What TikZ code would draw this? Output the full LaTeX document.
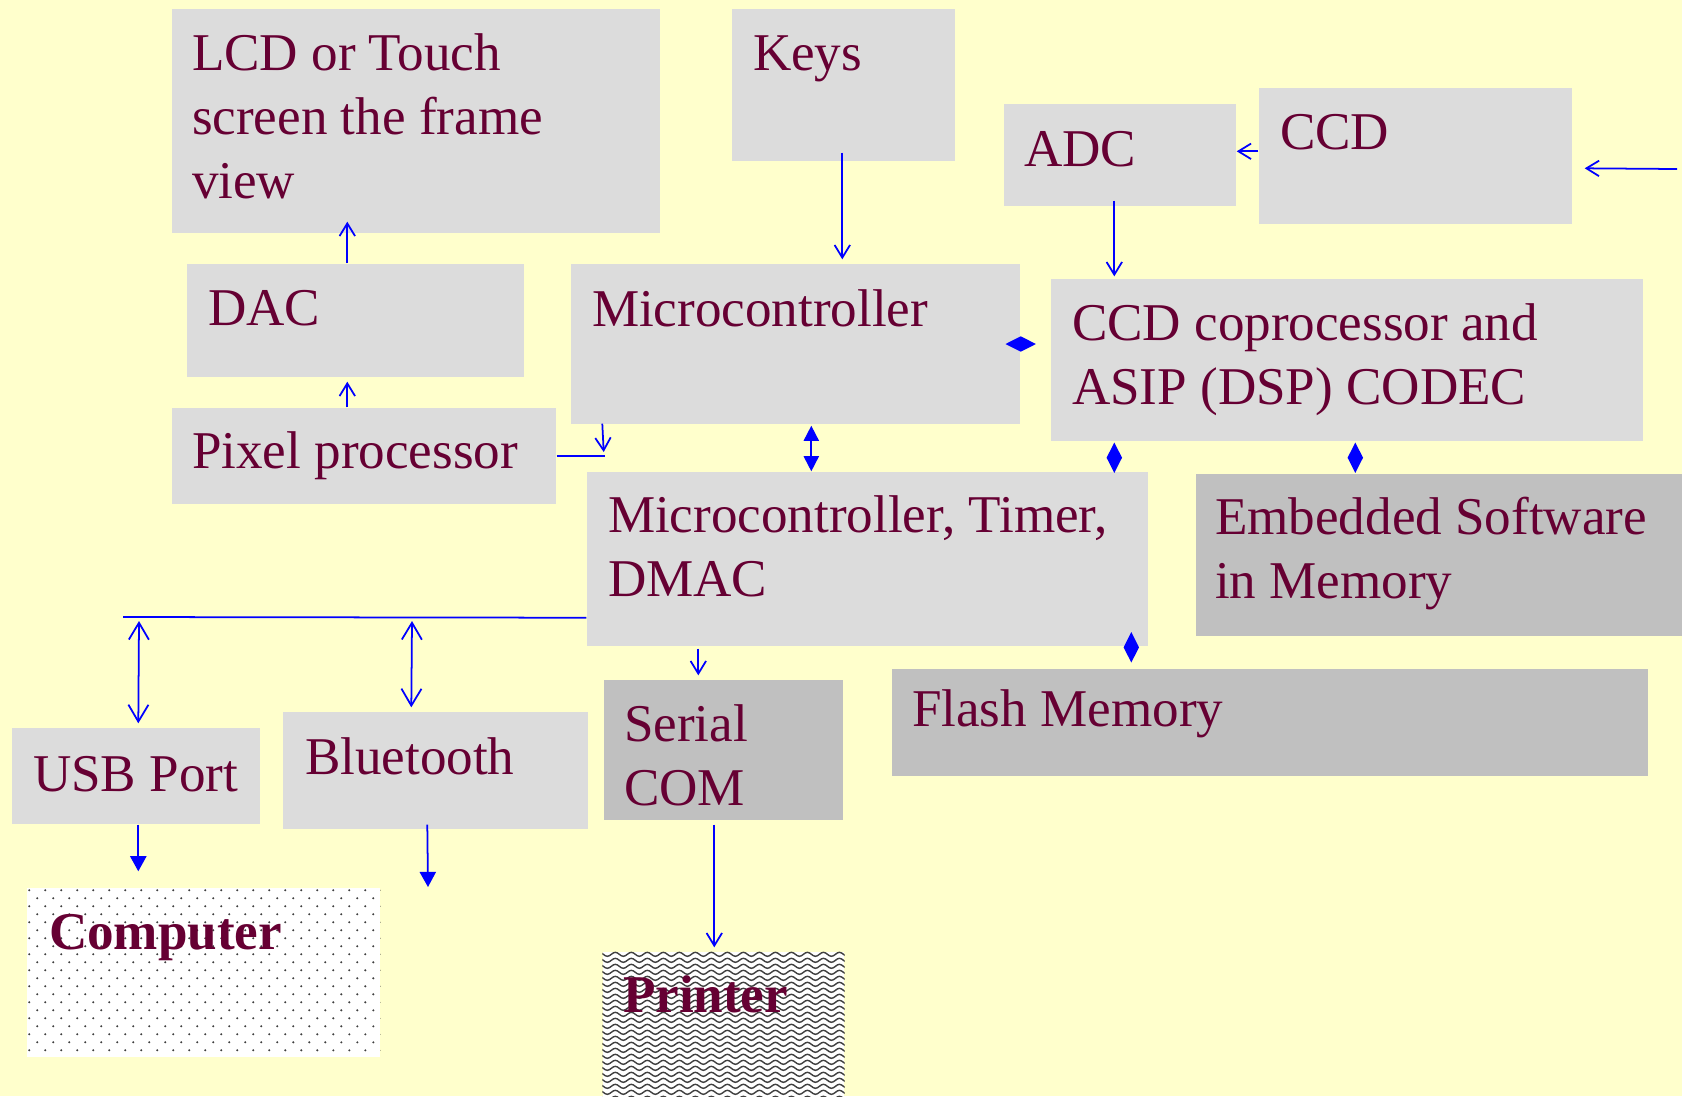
\documentclass[tikz,border=0pt]{standalone}
\usepackage{fontspec}
\setmainfont{Liberation Serif}
\usetikzlibrary{arrows.meta,fit,shapes.geometric,decorations.pathmorphing}
\definecolor{slideyellow}{RGB}{255,255,204}
\definecolor{blocklight}{RGB}{220,220,220}
\definecolor{blockdark}{RGB}{192,192,192}
\definecolor{labelmaroon}{RGB}{102,0,51}
\definecolor{wireblue}{RGB}{0,0,255}

\begin{document}
\begin{tikzpicture}[x=0.01cm,y=-0.01cm,
  blk/.style={fill=blocklight,inner sep=0pt},
  blkdark/.style={fill=blockdark,inner sep=0pt},
  blkwhite/.style={fill=white,inner sep=0pt},
  lbl/.style={anchor=base west,inner sep=0pt,align=left,text=labelmaroon,
    font=\fontsize{15.1pt}{18.2pt}\selectfont},
  wire/.style={wireblue,line width=0.5pt},
  oneway/.style={wire,-{Straight Barb[length=3.6pt,width=4.4pt]}},
  twoway/.style={wire,{Straight Barb[length=4.8pt,width=5.7pt]}-{Straight Barb[length=4.8pt,width=5.7pt]}},
  solidway/.style={wire,-{Triangle[length=4.3pt,width=4.6pt]}},
  solidtwo/.style={wire,{Triangle[length=4.3pt,width=4.3pt]}-{Triangle[length=4.3pt,width=4.3pt]}},
  hjoint/.style={diamond,fill=wireblue,inner sep=0pt,minimum width=0.31cm,minimum height=0.16cm},
  vjoint/.style={diamond,fill=wireblue,inner sep=0pt,minimum width=0.16cm,minimum height=0.31cm},
  waveline/.style={black!75,line width=0.4pt,decorate,
    decoration={snake,amplitude=0.2mm,segment length=1.6mm}}]

%% ── slide background ─────────────────────────────────────────────
\fill[slideyellow] (0,0) rectangle (1682,1096);
\useasboundingbox (0,0) rectangle (1682,1096);

%% ── blocks ───────────────────────────────────────────────────────
\node[blk,fit={(172,9) (660,233)}] (lcd) {};
\node[blk,fit={(732,9) (955,161)}] (keys) {};
\node[blk,fit={(1004,104) (1236,206)}] (adc) {};
\node[blk,fit={(1259,88) (1572,224)}] (ccd) {};
\node[blk,fit={(187,264) (524,377)}] (dac) {};
\node[blk,fit={(571,264) (1020,424)}] (mc) {};
\node[blk,fit={(1051,279) (1643,441)}] (cop) {};
\node[blk,fit={(172,408) (556,504)}] (pix) {};
\node[blk,fit={(587,472) (1148,646)}] (mtd) {};
\node[blkdark,fit={(1196,474) (1682,636)}] (emb) {};
\node[blkdark,fit={(892,669) (1648,776)}] (flash) {};
\node[blk,fit={(12,728) (260,824)}] (usb) {};
\node[blk,fit={(283,712) (588,829)}] (bt) {};
\node[blkdark,fit={(604,680) (843,820)}] (ser) {};
\node[blkwhite,fit={(27,888) (380,1057)}] (cmp) {};
\node[blkwhite,fit={(603,952) (844,1096)}] (prn) {};

%% dotted fill of the computer box
\begin{scope}
  \clip (cmp.north west) rectangle (cmp.south east);
  \foreach \r [evaluate=\r as \off using {8*mod(\r,2)}] in {0,...,20}
    \foreach \c in {0,...,22}
      \fill[black!75] ([shift={({3+16*\c+\off},{3+8*\r})}]cmp.north west) circle (0.32pt);
\end{scope}

%% wavy fill of the printer box
\begin{scope}
  \clip (prn.north west) rectangle (prn.south east);
  \foreach \r in {0,...,24}
    \draw[waveline] ([shift={(-8,{3+6*\r})}]prn.north west) -- ++(260,0);
\end{scope}

%% ── block texts (base = last line) ───────────────────────────────
\node[lbl] (lcd-t) at ([shift={(20,190)}]lcd.north west) {LCD or Touch\\screen the frame\\view};
\node[lbl] (keys-t) at ([shift={(21,62)}]keys.north west) {Keys};
\node[lbl] (adc-t) at ([shift={(20,63)}]adc.north west) {ADC};
\node[lbl] (ccd-t) at ([shift={(21,62)}]ccd.north west) {CCD};
\node[lbl] (dac-t) at ([shift={(21,62)}]dac.north west) {DAC};
\node[lbl] (mc-t) at ([shift={(21,63)}]mc.north west) {Microcontroller};
\node[lbl] (cop-t) at ([shift={(21,126)}]cop.north west) {CCD coprocessor and\\ASIP (DSP) CODEC};
\node[lbl] (pix-t) at ([shift={(20,61)}]pix.north west) {Pixel processor};
\node[lbl] (mtd-t) at ([shift={(21,125)}]mtd.north west) {Microcontroller, Timer,\\DMAC};
\node[lbl] (emb-t) at ([shift={(19,125)}]emb.north west) {Embedded Software\\in Memory};
\node[lbl] (flash-t) at ([shift={(20,58)}]flash.north west) {Flash Memory};
\node[lbl] (usb-t) at ([shift={(21,64)}]usb.north west) {USB Port};
\node[lbl] (bt-t) at ([shift={(22,63)}]bt.north west) {Bluetooth};
\node[lbl] (ser-t) at ([shift={(20,126)}]ser.north west) {Serial\\COM};
\node[lbl,font=\fontsize{15.1pt}{18.2pt}\selectfont\bfseries] (cmp-t) at ([shift={(22,62)}]cmp.north west) {Computer};
\node[lbl,font=\fontsize{15.1pt}{18.2pt}\selectfont\bfseries] (prn-t) at ([shift={(20,61)}]prn.north west) {Printer};

%% ── links ────────────────────────────────────────────────────────
\coordinate (src) at (1677,169);
\coordinate (bus) at (123,617);
\coordinate (btout) at (428,887);

\draw[oneway] ([shift={(176,0)}]pix.north west) -- ([shift={(161,4)}]dac.south west);
\draw[oneway] ([shift={(161,0)}]dac.north west) -- ([shift={(176,-12)}]lcd.south west);
\draw[oneway] ([shift={(111,-9)}]keys.south west) -- ([shift={(272,-4)}]mc.north west);
\draw[oneway] ([shift={(111,-6)}]adc.south west) -- ([shift={(64,-2)}]cop.north west);
\draw[oneway] ([shift={(0,64)}]ccd.north west) -- ([shift={(0,48)}]adc.north east);
\draw[oneway] (src) -- ([shift={(12,81)}]ccd.north east);

%% microcontroller to pixel processor
\draw[wire] (pix.east) -- ([shift={(48,0)}]pix.east);
\draw[oneway] ([shift={(32,-1)}]mc.south west) -- ([shift={(47,-4)}]pix.east);

%% microcontroller <-> timer / DMAC
\draw[solidtwo] ([shift={(241,1)}]mc.south west) -- ([shift={(225,0)}]mtd.north west);

%% diamond joints
\node[hjoint] (j-mc) at (mc.east) {};
\node[vjoint] (j-mtd) at ([shift={(64,16)}]cop.south west) {};
\node[vjoint] (j-emb) at ([shift={(305,16)}]cop.south west) {};
\node[vjoint] (j-flash) at ([shift={(240,-21)}]flash.north west) {};

%% peripheral bus
\draw[wire] ([shift={(0,-29)}]mtd.south west) -- (bus);
\draw[twoway] ([shift={(16,4)}]bus) -- ([shift={(127,-4)}]usb.north west);
\draw[twoway] ([shift={(289,4)}]bus) -- ([shift={(129,-4)}]bt.north west);
\draw[solidway] ([shift={(127,0)}]usb.south west) -- ([shift={(112,-16)}]cmp.north west);
\draw[solidway] ([shift={(145,-5)}]bt.south west) -- (btout);

%% serial port and printer
\draw[oneway] ([shift={(112,2)}]mtd.south west) -- ([shift={(95,-4)}]ser.north west);
\draw[oneway] ([shift={(111,4)}]ser.south west) -- ([shift={(112,-4)}]prn.north west);

\end{tikzpicture}
\end{document}
